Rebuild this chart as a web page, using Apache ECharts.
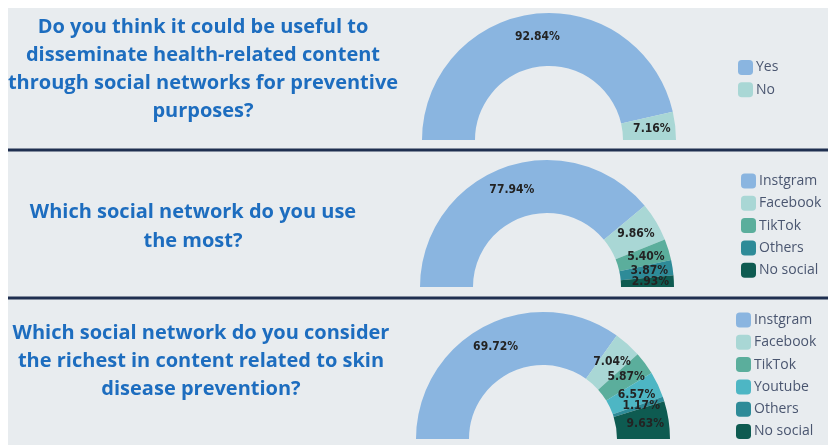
<!DOCTYPE html>
<html>
<head>
<meta charset="utf-8">
<script src="https://cdn.jsdelivr.net/npm/echarts@6/dist/echarts.min.js"></script>
<style>
html,body{margin:0;padding:0;background:#ffffff;}
#chart{width:828px;height:445px;}
</style>
</head>
<body>
<div id="chart"></div>
<script>
// ---- data ----
var q1Title = ['Do you think it could be useful to', 'disseminate health-related content', 'through social networks for preventive', 'purposes?'];
var q1Names = ['Yes', 'No'];
var q1Values = [92.84, 7.16];

var q2Title = ['Which social network do you use', 'the most?'];
var q2Names = ['Instgram', 'Facebook', 'TikTok', 'Others', 'No social'];
var q2Values = [77.94, 9.86, 5.40, 3.87, 2.93];

var q3Title = ['Which social network do you consider', 'the richest in content related to skin', 'disease prevention?'];
var q3Names = ['Instgram', 'Facebook', 'TikTok', 'Youtube', 'Others', 'No social'];
var q3Values = [69.72, 7.04, 5.87, 6.57, 1.17, 9.63];

// ---- styles ----
var palette = {
  'Yes': '#8ab5e0', 'No': '#a9d7d5',
  'Instgram': '#8ab5e0', 'Facebook': '#a9d7d5', 'TikTok': '#5bae9c',
  'Youtube': '#4db6c4', 'Others': '#2e8b98', 'No social': '#0e5b51'
};
var titleColor = '#1d6dbf';
var titleFont = '"Open Sans", sans-serif';

function mkData(names, values) {
  return names.map(function (n, i) {
    return { name: n, value: values[i], itemStyle: { color: palette[n] } };
  });
}

function mkPie(names, values, cx, cy) {
  return {
    type: 'pie',
    center: [cx, cy],
    radius: [74, 127],
    startAngle: 180,
    endAngle: 0,
    clockwise: true,
    avoidLabelOverlap: false,
    minShowLabelAngle: 0,
    labelLayout: { hideOverlap: false },
    silent: true,
    label: {
      show: true,
      position: 'inside',
      formatter: function (p) { return p.value.toFixed(2) + '%'; },
      color: '#232323',
      fontFamily: '"DejaVu Sans Condensed", "Liberation Sans Narrow", sans-serif',
      fontWeight: 'bold',
      fontSize: 12
    },
    labelLine: { show: false },
    itemStyle: { borderWidth: 0 },
    data: mkData(names, values)
  };
}

function mkLegend(names, left, top) {
  return {
    data: names,
    orient: 'vertical',
    left: left,
    top: top,
    itemWidth: 15,
    itemHeight: 15,
    itemGap: 7.3,
    icon: 'roundRect',
    selectedMode: false,
    padding: 0,
    textStyle: { color: '#4a5670', fontSize: 14, fontFamily: '"Open Sans", sans-serif', padding: [0, 0, 0, -2] }
  };
}

function titleTexts(lines, cx, firstY, step) {
  return lines.map(function (t, i) {
    return {
      type: 'text',
      x: cx, y: firstY + i * step,
      style: {
        text: t, fill: titleColor, font: 'bold 20px ' + titleFont,
        textAlign: 'center', textVerticalAlign: 'middle'
      }
    };
  });
}

var chart = echarts.init(document.getElementById('chart'), null, { renderer: 'canvas' });

var graphics = [
  { type: 'rect', z: -10, shape: { x: 8, y: 8, width: 820, height: 437 }, style: { fill: '#e8ecef' } },
  { type: 'rect', z: -5, shape: { x: 8, y: 148.5, width: 820, height: 3 }, style: { fill: '#1f2f50' } },
  { type: 'rect', z: -5, shape: { x: 8, y: 296.5, width: 820, height: 3 }, style: { fill: '#1f2f50' } }
].concat(titleTexts(q1Title, 203, 27, 28))
 .concat(titleTexts(q2Title, 193, 212, 29))
 .concat(titleTexts(q3Title, 201, 333, 28));

chart.setOption({
  animation: false,
  backgroundColor: '#ffffff',
  graphic: { elements: graphics },
  legend: [
    mkLegend(q1Names, 738, 60),
    mkLegend(q2Names, 741, 173.5),
    mkLegend(q3Names, 736, 312.5)
  ],
  series: [
    mkPie(q1Names, q1Values, 549, 140),
    mkPie(q2Names, q2Values, 547, 287),
    mkPie(q3Names, q3Values, 543, 439)
  ]
});
</script>
</body>
</html>
